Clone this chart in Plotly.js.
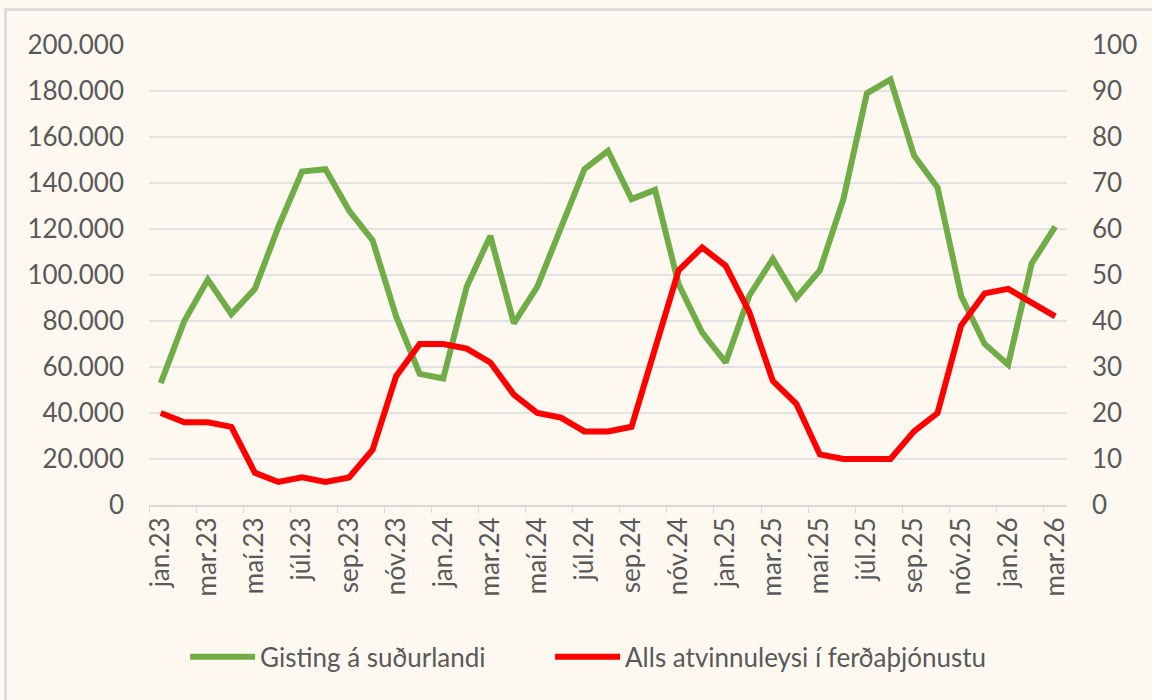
<!DOCTYPE html>
<html>
<head>
<meta charset="utf-8">
<script src="https://cdn.plot.ly/plotly-3.0.1.min.js"></script>
<style>
  html, body { margin: 0; padding: 0; background: #FDF9F1; }
  #wrap { position: relative; width: 1152px; height: 700px; overflow: hidden; }
  #chart { position: absolute; left: 0; top: 0; width: 1152px; height: 700px; }
  #frame { position: absolute; left: 4px; top: 8px; width: 1200px; height: 760px;
           border-left: 3px solid #DCDCDC; border-top: 3px solid #DCDCDC; pointer-events: none; }
</style>
</head>
<body>
<div id="wrap">
  <div id="chart"></div>
  <div id="frame"></div>
</div>
<script>
const months = [
  "jan.23","feb.23","mar.23","apr.23","maí.23","jún.23","júl.23","ágú.23","sep.23","okt.23","nóv.23","des.23",
  "jan.24","feb.24","mar.24","apr.24","maí.24","jún.24","júl.24","ágú.24","sep.24","okt.24","nóv.24","des.24",
  "jan.25","feb.25","mar.25","apr.25","maí.25","jún.25","júl.25","ágú.25","sep.25","okt.25","nóv.25","des.25",
  "jan.26","feb.26","mar.26"
];
const gisting = [
  53000, 80000, 98000, 83000, 94000, 121000, 145000, 146000, 128000, 115000, 82000, 57000,
  55000, 95000, 117000, 79000, 95000, 120000, 146000, 154000, 133000, 137000, 96000, 75000,
  62000, 91000, 107000, 90000, 102000, 133000, 179000, 185000, 152000, 138000, 91000, 70000,
  61000, 105000, 121000
];
const atvinnuleysi = [
  20, 18, 18, 17, 7, 5, 6, 5, 6, 12, 28, 35,
  35, 34, 31, 24, 20, 19, 16, 16, 17, 34, 51, 56,
  52, 42, 27, 22, 11, 10, 10, 10, 16, 20, 39, 46,
  47, 44, 41
];
const seriesNames = ["Gisting á suðurlandi", "Alls atvinnuleysi í ferðaþjónustu"];

const font = "Lato, 'Open Sans', sans-serif";
const txt = "#595959";
const fs = 26;

const traces = [
  { x: months, y: gisting, name: seriesNames[0], type: "scatter", mode: "lines",
    line: { color: "#70AD47", width: 6 }, yaxis: "y", legend: "legend" },
  { x: months, y: atvinnuleysi, name: seriesNames[1], type: "scatter", mode: "lines",
    line: { color: "#FF0000", width: 6 }, yaxis: "y2", legend: "legend2" }
];

const legendBase = { orientation: "h", xanchor: "left", y: -0.33, yanchor: "middle",
  font: { family: font, size: fs, color: txt }, itemwidth: 65, bgcolor: "rgba(0,0,0,0)" };

const layout = {
  width: 1152, height: 700,
  paper_bgcolor: "#FDF9F1", plot_bgcolor: "#FDF9F1",
  margin: { l: 149, r: 85, t: 45, b: 195 },
  font: { family: font, size: fs, color: txt },
  showlegend: true,
  legend: Object.assign({}, legendBase, { x: 0.0393 }),
  legend2: Object.assign({}, legendBase, { x: 0.4369 }),
  xaxis: { type: "category", range: [-0.5, months.length - 0.5], tickmode: "linear", tick0: 0, dtick: 2,
           tickangle: -90, tickson: "boundaries", ticks: "outside", ticklen: 6, tickcolor: "#D9D9D9",
           showline: true, linecolor: "#D9D9D9", linewidth: 2, showgrid: false, zeroline: false,
           tickfont: { family: font, size: fs, color: txt }, fixedrange: true },
  yaxis: { range: [0, 200000], tickmode: "linear", tick0: 0, dtick: 20000, tickformat: ",d",
           showgrid: true, gridcolor: "#E2E2E2", gridwidth: 2, zeroline: false,
           ticks: "", ticklabelstandoff: 24, tickfont: { family: font, size: fs, color: txt } },
  yaxis2: { range: [0, 100], tickmode: "linear", tick0: 0, dtick: 10, overlaying: "y", side: "right",
            showgrid: false, zeroline: false, ticks: "", ticklabelstandoff: 24,
            tickfont: { family: font, size: fs, color: txt } },
  separators: ",."
};

Plotly.newPlot("chart", traces, layout, { staticPlot: true, displayModeBar: false });
</script>
</body>
</html>
